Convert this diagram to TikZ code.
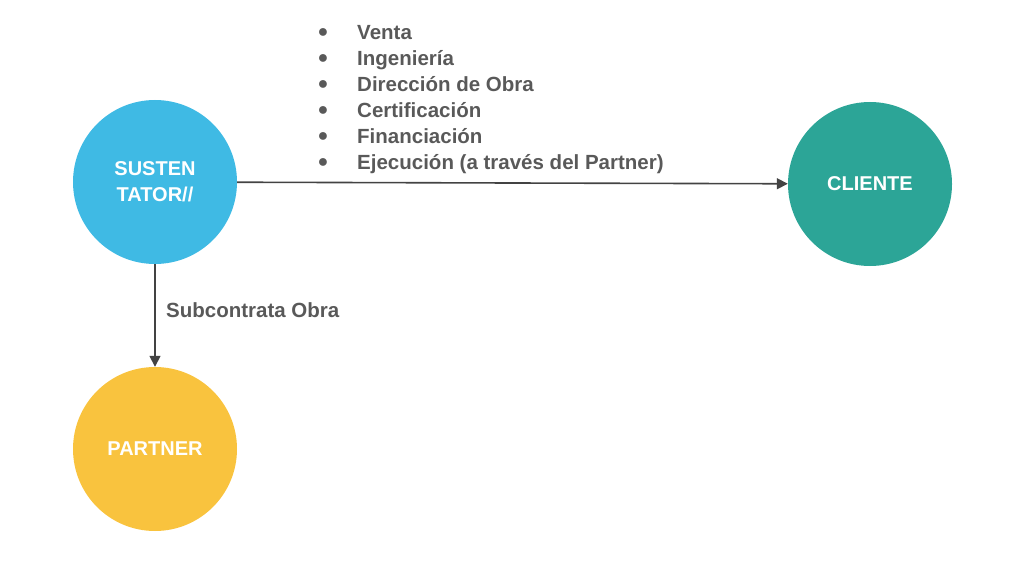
\documentclass[tikz,border=0pt]{standalone}
\usepackage{fontspec}
\setmainfont{Liberation Sans}
\usetikzlibrary{arrows.meta}
\definecolor{cblue}{HTML}{3FBAE4}
\definecolor{cteal}{HTML}{2CA597}
\definecolor{cyellow}{HTML}{F9C33E}
\definecolor{ctext}{HTML}{595959}
\definecolor{carrow}{HTML}{434343}
\begin{document}
\begin{tikzpicture}[x=1pt,y=-1pt,
  blob/.style={circle,minimum size=164pt,inner sep=0pt,text=white,
    font=\fontsize{20}{26}\selectfont\bfseries,align=center},
  lbl/.style={text=ctext,font=\fontsize{20.5}{24}\selectfont\bfseries,inner sep=0pt,anchor=base west},
  bul/.style={text=ctext,font=\fontsize{18}{20}\selectfont,inner sep=0pt,anchor=center},
  conn/.style={draw=carrow,line width=1.6pt,-{Triangle[length=11pt,width=11pt]}}]
\useasboundingbox (0,0) rectangle (1024,569);
\node[blob,fill=cblue] (s) at (155,182) {SUSTEN\\TATOR//};
\node[blob,fill=cteal] (c) at (870,184) {CLIENTE};
\node[blob,fill=cyellow] (p) at (155,449) {PARTNER};
\draw[conn] (s) -- (c);
\draw[conn] (s) -- (p);
\node[lbl] (sub) at (166,317) {Subcontrata Obra};
\foreach \t [count=\i] in {Venta,Ingeniería,Dirección de Obra,Certificación,Financiación,Ejecución (a través del Partner)}{
  \node[bul] (b\i) at (323,{33+26*(\i-1)}) {●};
  \node[lbl] (l\i) at (357,{40+26*(\i-1)}) {\t};
}
\end{tikzpicture}
\end{document}
